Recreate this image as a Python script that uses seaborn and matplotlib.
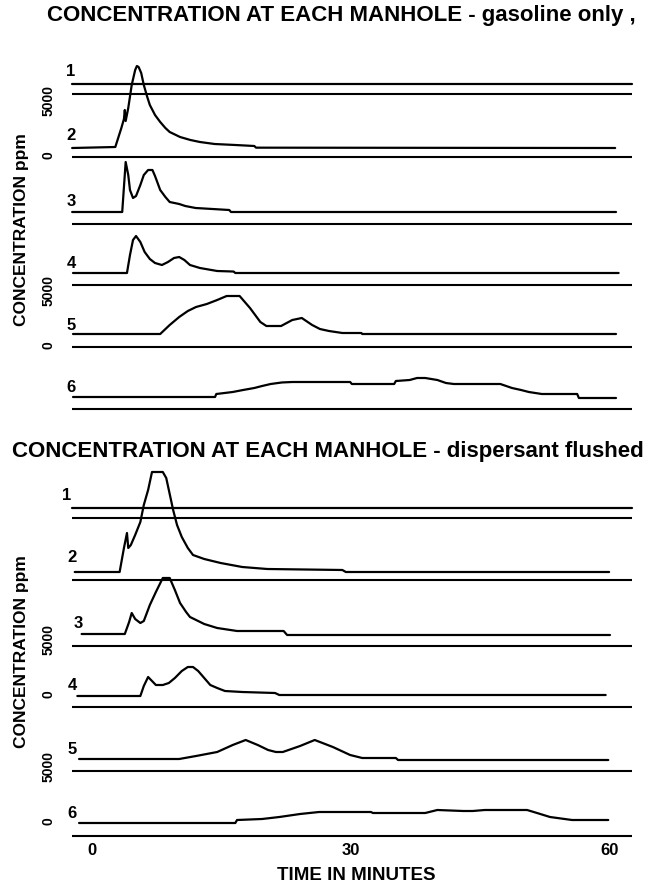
import numpy as np
import matplotlib
matplotlib.use("Agg")
import matplotlib.pyplot as plt
import seaborn as sns

# ---------------- gasoline only : time (min), concentration (ppm) ----------------
GAS_T1 = [-2.3, 62.5]
GAS_C1 = [750, 750]
GAS_T2 = [-2.3, 2.7, 3.4, 3.7, 3.8, 3.9, 4.2, 4.6, 5.0, 5.2, 5.4, 5.7, 6.0, 6.4, 6.7,
          7.3, 7.9, 8.5, 9.0, 10.2, 11.4, 12.5, 14.2, 16.6, 18.8, 19.0, 60.6]
GAS_C2 = [675, 750, 2175, 2850, 3525, 2700, 3675, 5400, 6525, 6825, 6750, 6300, 5400, 4500, 3900,
          3150, 2625, 2175, 1875, 1500, 1275, 1125, 975, 900, 825, 700, 675]
GAS_T3 = [-2.3, 3.5, 3.9, 4.2, 4.4, 4.75, 5.1, 5.6, 6.0, 6.5, 7.0, 7.3, 7.9, 8.5, 9.0,
          10.1, 10.8, 12.0, 15.9, 16.1, 60.7]
GAS_C3 = [900, 900, 4650, 3675, 2550, 1950, 2100, 2925, 3675, 4050, 4050, 3600, 2550, 2025, 1650,
          1500, 1350, 1200, 1050, 900, 900]
GAS_T4 = [-2.2, 4.05, 4.4, 4.75, 5.1, 5.6, 6.1, 6.7, 7.3, 8.1, 8.8, 9.5, 10.1, 10.7, 11.35,
          12.5, 14.5, 16.4, 16.6, 61.0]
GAS_C4 = [900, 900, 2250, 3375, 3675, 3225, 2475, 1950, 1650, 1500, 1725, 2025, 2100, 1875, 1500,
          1275, 1050, 1010, 900, 900]
GAS_T5 = [-2.2, 7.9, 9.0, 10.1, 11.1, 12.05, 13.3, 14.5, 15.6, 17.1, 18.3, 19.5, 20.2, 21.9,
          23.2, 24.3, 25.5, 26.4, 27.45, 29.0, 31.2, 31.3, 60.7]
GAS_C5 = [975, 975, 1650, 2250, 2700, 3000, 3225, 3525, 3825, 3825, 2925, 1875, 1575, 1575,
          2025, 2175, 1650, 1350, 1200, 1050, 1050, 975, 975]
GAS_T6 = [-2.2, 14.25, 14.4, 16.3, 17.5, 18.8, 19.7, 20.7, 22.0, 23.2, 29.9, 30.1, 35.0, 35.2,
          36.8, 37.65, 38.6, 40.0, 41.0, 41.9, 47.3, 48.65, 49.7, 50.6, 52.1, 56.2, 56.4, 60.7]
GAS_C6 = [900, 900, 1125, 1275, 1425, 1575, 1725, 1875, 1990, 2025, 2025, 1875, 1875, 2100,
          2175, 2325, 2325, 2175, 1950, 1875, 1875, 1575, 1425, 1275, 1125, 1125, 825, 825]

# ---------------- dispersant flushed : time (min), concentration (ppm) ----------------
DISP_T1 = [-2.3, 62.5]
DISP_C1 = [750, 750]
DISP_T2 = [-2.0, 3.2, 3.7, 4.05, 4.2, 4.5, 5.0, 5.6, 6.0, 6.5, 6.95, 8.2, 8.6, 8.9, 9.4, 9.85,
           10.4, 11.1, 11.7, 13.0, 14.9, 17.4, 20.3, 29.0, 29.4, 59.9]
DISP_C2 = [600, 600, 2400, 3525, 2400, 2625, 3375, 4350, 5625, 6750, 8100, 8100, 7650, 6750, 5250, 4125,
           3225, 2400, 1875, 1575, 1275, 975, 825, 750, 600, 600]
DISP_T3 = [-1.2, 3.8, 4.3, 4.6, 5.0, 5.6, 6.0, 6.7, 7.4, 8.2, 9.0, 9.6, 10.2, 10.9, 11.35,
           13.0, 14.5, 16.8, 22.2, 22.6, 60.0]
DISP_C3 = [900, 900, 1800, 2475, 2025, 1725, 1875, 3075, 4050, 5100, 5100, 4200, 3225, 2550, 2175,
           1650, 1350, 1125, 1125, 825, 825]
DISP_T4 = [-1.7, 5.6, 6.0, 6.5, 6.95, 7.4, 8.2, 8.9, 9.6, 10.4, 11.1, 11.7, 12.3, 13.0, 13.7,
           14.5, 15.4, 17.4, 21.2, 21.7, 59.5]
DISP_C4 = [825, 825, 1575, 2250, 1950, 1650, 1650, 1800, 2175, 2700, 3000, 3000, 2700, 2175, 1650,
           1425, 1200, 1125, 1050, 900, 900]
DISP_T5 = [-1.5, 10.1, 12.05, 14.5, 16.3, 17.8, 19.2, 20.4, 21.3, 22.1, 24.1, 25.8, 27.9, 29.9,
           31.3, 35.2, 35.45, 59.8]
DISP_C5 = [900, 900, 1125, 1425, 1950, 2325, 1950, 1575, 1425, 1425, 1875, 2325, 1800, 1200,
           975, 975, 825, 825]
DISP_T6 = [-1.5, 16.6, 16.8, 19.7, 21.7, 24.1, 26.3, 32.3, 32.55, 38.6, 40.0, 43.0, 44.1, 45.5,
           50.4, 51.55, 53.05, 53.9, 55.6, 59.8]
DISP_C6 = [975, 975, 1200, 1275, 1425, 1650, 1800, 1800, 1725, 1725, 1950, 1875, 1875, 1950,
           1950, 1725, 1425, 1350, 1200, 1200]

MANHOLES = ["1", "2", "3", "4", "5", "6"]
TIME_TICKS = [0, 30, 60]
TITLE_GAS = "CONCENTRATION AT EACH MANHOLE - gasoline only ,"
TITLE_DISP = "CONCENTRATION AT EACH MANHOLE - dispersant flushed"
Y_LABEL = "CONCENTRATION ppm"
X_LABEL = "TIME IN MINUTES"

# ---------------- styling / layout ----------------
sns.set_theme(style="white")
plt.rcParams["font.family"] = ["Liberation Sans", "DejaVu Sans"]
plt.rcParams["font.weight"] = "bold"
plt.rcParams["text.color"] = "black"
plt.rcParams["xtick.color"] = "black"
plt.rcParams["ytick.color"] = "black"
plt.rcParams["axes.labelcolor"] = "black"

W, H = 652, 886
fig = plt.figure(figsize=(W / 100, H / 100), dpi=100)

PX_PER_MIN = 8.633      # horizontal scale of the recorder chart
X0_PX = 92              # where t = 0 sits
AX_LEFT, AX_RIGHT = 60, 640
PPM_PER_PX = 75.0
LINE_START, LINE_END = -2.3, 62.5   # extent of the zero lines
STACK_LEVEL_GAS = [24450, 19725, 14700, 10125, 5475, 825]
STACK_LEVEL_DISP = [24150, 19500, 14550, 9975, 5175, 300]


def make_axes(top_px, bottom_px):
    ax = fig.add_axes([AX_LEFT / W, 1 - bottom_px / H,
                       (AX_RIGHT - AX_LEFT) / W, (bottom_px - top_px) / H])
    ax.set_facecolor("white")
    return ax, (bottom_px - top_px) * PPM_PER_PX


def draw_panel(ax, ymax, series, levels, label_x):
    for i, ((t, c), lvl) in enumerate(zip(series, levels)):
        ax.hlines(lvl, LINE_START, LINE_END, color="black", lw=1.5)
        sns.lineplot(x=np.asarray(t, float), y=lvl + np.asarray(c, float), ax=ax,
                     color="black", lw=1.6, sort=False, estimator=None)
        ax.text(label_x[i], lvl + 1650, MANHOLES[i], ha="center", va="center",
                fontsize=12, fontweight="bold", color="black")
    ax.set_xlim((AX_LEFT - X0_PX) / PX_PER_MIN, (AX_RIGHT - X0_PX) / PX_PER_MIN)
    ax.set_ylim(0, ymax)
    sns.despine(ax=ax, left=True, bottom=True)
    ax.grid(False)
    ax.set_xlabel("")
    ax.set_ylabel("")


def px_to_min(px):
    return (px - X0_PX) / PX_PER_MIN


# top panel: gasoline only
ax1, ymax1 = make_axes(40, 420)
gas = [(GAS_T1, GAS_C1), (GAS_T2, GAS_C2), (GAS_T3, GAS_C3),
       (GAS_T4, GAS_C4), (GAS_T5, GAS_C5), (GAS_T6, GAS_C6)]
draw_panel(ax1, ymax1, gas, STACK_LEVEL_GAS, [px_to_min(71)] * 6)
ax1.set_xticks([])
ax1.set_yticks([STACK_LEVEL_GAS[1] + 5000, STACK_LEVEL_GAS[1],
                STACK_LEVEL_GAS[4] + 5000, STACK_LEVEL_GAS[4]])
ax1.set_yticklabels(["5000", "0", "5000", "0"], rotation=90,
                    fontsize=10, fontweight="bold")
ax1.tick_params(axis="y", length=0, pad=3, colors="black")

# bottom panel: dispersant flushed
ax2, ymax2 = make_axes(460, 840)
disp = [(DISP_T1, DISP_C1), (DISP_T2, DISP_C2), (DISP_T3, DISP_C3),
        (DISP_T4, DISP_C4), (DISP_T5, DISP_C5), (DISP_T6, DISP_C6)]
draw_panel(ax2, ymax2, disp, STACK_LEVEL_DISP,
           [px_to_min(p) for p in (67, 72, 78, 72, 72, 72)])
ax2.set_xticks(TIME_TICKS)
ax2.set_xticklabels([str(v) for v in TIME_TICKS], fontsize=12, fontweight="bold")
ax2.tick_params(axis="x", length=0, pad=2, colors="black")
ax2.set_yticks([STACK_LEVEL_DISP[3] + DISP_C4[0] + 5000, STACK_LEVEL_DISP[3] + DISP_C4[0],
                STACK_LEVEL_DISP[5] + DISP_C6[0] + 5000, STACK_LEVEL_DISP[5] + DISP_C6[0]])
ax2.set_yticklabels(["5000", "0", "5000", "0"], rotation=90,
                    fontsize=10, fontweight="bold")
ax2.tick_params(axis="y", length=0, pad=3, colors="black")

# titles and axis captions
fig.text(341 / W, 1 - 16 / H, TITLE_GAS, ha="center", va="center",
         fontsize=16, fontweight="bold", color="black")
fig.text(328 / W, 1 - 452 / H, TITLE_DISP, ha="center", va="center",
         fontsize=16, fontweight="bold", color="black")
fig.text(22 / W, 1 - 230 / H, Y_LABEL, rotation=90, ha="center", va="center",
         fontsize=12.5, fontweight="bold", color="black")
fig.text(22 / W, 1 - 652 / H, Y_LABEL, rotation=90, ha="center", va="center",
         fontsize=12.5, fontweight="bold", color="black")
fig.text(356 / W, 1 - 875 / H, X_LABEL, ha="center", va="center",
         fontsize=13.5, fontweight="bold", color="black")

fig.savefig("out.png", dpi=100, facecolor="white")
